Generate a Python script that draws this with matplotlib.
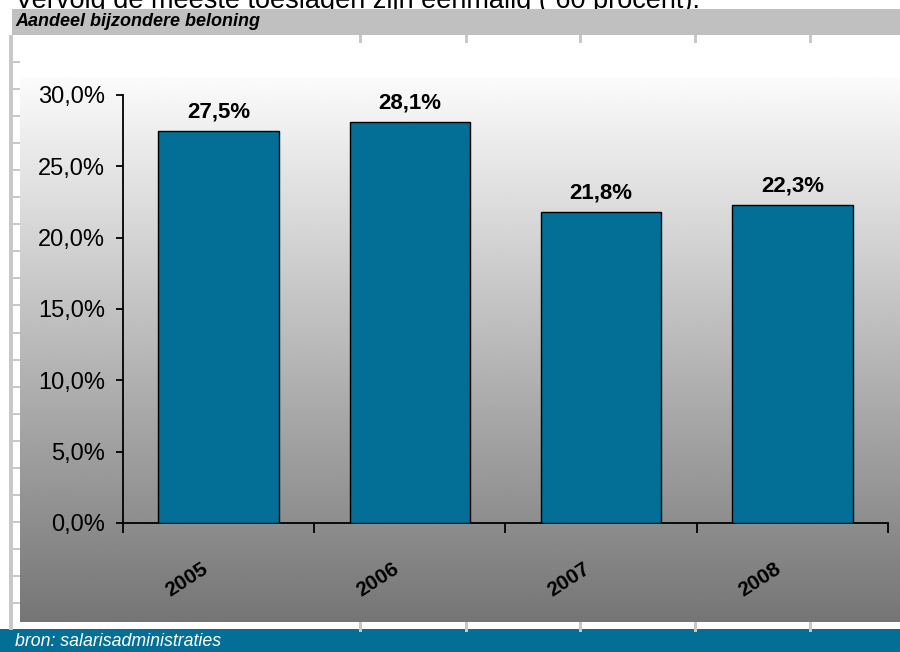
import numpy as np
import matplotlib
matplotlib.use("Agg")
import matplotlib.pyplot as plt
from matplotlib.patches import Rectangle

plt.rcParams['font.family'] = ['Liberation Sans', 'DejaVu Sans']

#### data ###############################
years = ['2005', '2006', '2007', '2008']
share = [27.5, 28.1, 21.8, 22.3]
labels = ['27,5%', '28,1%', '21,8%', '22,3%']
yticks = [0, 5, 10, 15, 20, 25, 30]
ytick_labels = ['0,0%', '5,0%', '10,0%', '15,0%', '20,0%', '25,0%', '30,0%']
heading = 'Vervolg de meeste toeslagen zijn eenmalig ( 60 procent).'
title = 'Aandeel bijzondere beloning'
source = 'bron: salarisadministraties'
#########################################

blue = '#036e96'
W, H = 900, 652

fig = plt.figure(figsize=(9, 6.52), dpi=100)

# background layer in pixel coordinates
bg = fig.add_axes([0, 0, 1, 1])
bg.set_xlim(0, W)
bg.set_ylim(H, 0)
bg.axis('off')

# heading sits partly under the grey band (as on the slide)
bg.text(15, 8, heading, fontsize=19.5, va='baseline', ha='left', zorder=1)

# gradient panel behind the chart
grad = np.linspace(0.985, 0.46, 256).reshape(-1, 1)
bg.imshow(grad, cmap='gray', vmin=0, vmax=1, extent=[20, 900, 622, 77],
          aspect='auto', interpolation='bilinear', zorder=0)

# grey title band
bg.add_patch(Rectangle((12, 9), 888, 26, color='#c0c0c0', lw=0, zorder=2))
# blue source band
bg.add_patch(Rectangle((0, 629), 900, 23, color=blue, lw=0, zorder=2))

# left ruler
bg.add_patch(Rectangle((9, 35), 4, 595, color='#c8c8c8', lw=0, zorder=2))
for yy in np.arange(62, 610, 27.05):
    bg.add_patch(Rectangle((13, yy - 1), 7, 2, color='#c8c8c8', lw=0, zorder=2))
# small ruler ticks top and bottom
for xx in [360, 466, 580, 695, 810]:
    bg.add_patch(Rectangle((xx - 1.5, 35), 3, 8, color='#c8c8c8', lw=0, zorder=2))
    bg.add_patch(Rectangle((xx - 1.5, 622), 3, 10, color='#c8c8c8', lw=0, zorder=2))

bg.text(15, 22, title, fontsize=13, fontweight='bold',
        fontstyle='italic', va='center', ha='left', zorder=3)
bg.text(15, 642, source, fontsize=12.8, fontstyle='italic',
        color='white', va='center', ha='left', zorder=3)

# chart
ax = fig.add_axes([123 / W, 1 - 523 / H, 765 / W, 428 / H])
ax.patch.set_alpha(0)
x = np.arange(len(years))
ax.bar(x, share, width=0.63, color=blue, edgecolor='black', linewidth=1, zorder=3)
ax.set_xlim(-0.5, len(years) - 0.5)
ax.set_ylim(0, 30)

for xi, v, lab in zip(x, share, labels):
    ax.annotate(lab, (xi, v), xytext=(0, 6), textcoords='offset points',
                ha='center', va='bottom', fontsize=16, fontweight='bold')

ax.set_yticks(yticks)
ax.set_yticklabels(ytick_labels, fontsize=17)
ax.tick_params(axis='y', direction='out', length=5, width=1.3, pad=8)

ax.set_xticks(np.arange(-0.5, len(years), 1.0))
ax.set_xticklabels([])
ax.tick_params(axis='x', direction='out', length=7, width=1.3)
for xi, yr in zip(x, years):
    ax.text(xi - 0.04, -0.085, yr, transform=ax.get_xaxis_transform(),
            rotation=33, ha='right', va='top', fontsize=15, fontweight='bold')

for s in ['top', 'right']:
    ax.spines[s].set_visible(False)
for s in ['left', 'bottom']:
    ax.spines[s].set_linewidth(1.3)

fig.savefig('out.png', dpi=100)
